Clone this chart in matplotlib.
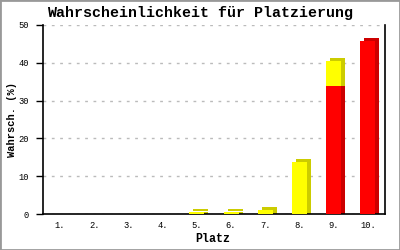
import matplotlib
matplotlib.use("Agg")
import matplotlib.pyplot as plt
import matplotlib.transforms as mtransforms
import numpy as np

places = ["1.", "2.", "3.", "4.", "5.", "6.", "7.", "8.", "9.", "10."]
red_vals = [0, 0, 0, 0, 0, 0, 0, 0, 33.9, 45.8]
yellow_vals = [0, 0, 0, 0, 0.5, 0.5, 1.1, 13.7, 6.6, 0]

plt.rcParams['font.family'] = ['Liberation Mono', 'DejaVu Sans Mono']

fig = plt.figure(figsize=(4, 2.5), dpi=100)
ax = fig.add_axes([43/400, 1-214/250, 342/400, 189/250])

x = np.arange(len(places))
w = 0.44
red = np.array(red_vals)
yel = np.array(yellow_vals)

off_top = mtransforms.offset_copy(ax.transData, fig=fig, x=4, y=3, units='dots')
off_side = mtransforms.offset_copy(ax.transData, fig=fig, x=4, y=0, units='dots')

# shadow (3D side/top)
for tr in (off_side, off_top):
    ax.bar(x, red, w, color='#cc0000', transform=tr, zorder=2, linewidth=0)
for tr in (off_side, off_top):
    ax.bar(x, yel, w, bottom=red, color='#cccc00', transform=tr, zorder=2, linewidth=0)
# front faces
ax.bar(x, red, w, color='#ff0000', zorder=3, linewidth=0)
ax.bar(x, yel, w, bottom=red, color='#ffff00', zorder=3, linewidth=0)

ax.set_xlim(-0.5, 9.5)
ax.set_ylim(0, 50)
ax.set_yticks([0, 10, 20, 30, 40, 50])
ax.set_xticks(x)
ax.set_xticklabels(places, fontsize=6.3)
ax.tick_params(axis='y', labelsize=6.3, length=5, width=1, direction='out', pad=5)
ax.tick_params(axis='x', length=0, pad=5)
ax.yaxis.grid(True, linestyle=(0, (2, 4)), color='#bbbbbb', linewidth=1)
ax.set_axisbelow(True)
ax.spines['top'].set_visible(False)
for s in ['left', 'right', 'bottom']:
    ax.spines[s].set_color('black')
    ax.spines[s].set_linewidth(1.2)

fig.text(0.5, 1-13/250, "Wahrscheinlichkeit für Platzierung", fontsize=10.8,
         fontweight='bold', ha='center', va='center')
ax.set_xlabel("Platz", fontsize=8.4, fontweight='bold')
ax.xaxis.set_label_coords((213-43)/342, -(239-214)/189)
ax.xaxis.label.set_va('center')
ax.set_ylabel("Wahrsch. (%)", fontsize=7.5, fontweight='bold')
ax.yaxis.set_label_coords(-(43-12)/342, 0.5)
ax.yaxis.label.set_va('center')

border = plt.Rectangle((0, 0), 1, 1, transform=fig.transFigure, fill=False,
                       edgecolor='#999999', linewidth=2, zorder=10)
fig.patches.append(border)

fig.savefig("out.png", dpi=100, facecolor='white')
